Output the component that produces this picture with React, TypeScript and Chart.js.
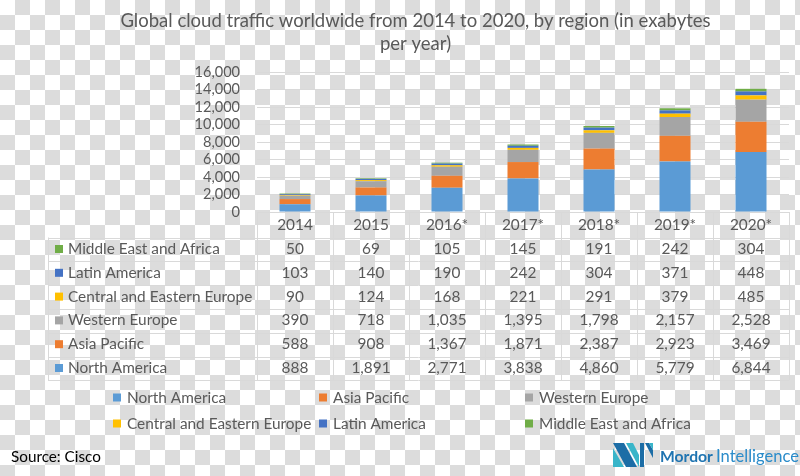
import { useEffect, useRef } from 'react';
import { Chart, registerables } from 'chart.js';
Chart.register(...registerables);

// ---- data ----
const years = ['2014', '2015', '2016*', '2017*', '2018*', '2019*', '2020*'];
const northAmerica = [888, 1891, 2771, 3838, 4860, 5779, 6844];
const asiaPacific = [588, 908, 1367, 1871, 2387, 2923, 3469];
const westernEurope = [390, 718, 1035, 1395, 1798, 2157, 2528];
const centralEasternEurope = [90, 124, 168, 221, 291, 379, 485];
const latinAmerica = [103, 140, 190, 242, 304, 371, 448];
const middleEastAfrica = [50, 69, 105, 145, 191, 242, 304];
const seriesNames = ['North America', 'Asia Pacific', 'Western Europe', 'Central and Eastern Europe', 'Latin America', 'Middle East and Africa'];
const seriesColors = ['#5b9bd5', '#ed7d31', '#a5a5a5', '#ffc000', '#4472c4', '#70ad47'];
const yMin = 0;
const yMax = 16000;
const yStep = 2000;
const titleLines = ['Global cloud traffic worldwide from 2014 to 2020, by region (in exabytes', 'per year)'];
const sourceText = 'Source: Cisco';
const brandBold = 'Mordor';
const brandLight = 'Intelligence';

const FONT = 'Lato';
const TEXT = '#595959';
const LINE = '#d9d9d9';

const mctx = document.createElement('canvas').getContext('2d') as CanvasRenderingContext2D;
function fit(text: string, target: number, weight = 'normal') {
  mctx.font = `${weight} 100px ${FONT}`;
  return (100 * target) / mctx.measureText(text).width;
}
const fmt = (v: number) => v.toLocaleString('en-US');

export default function App() {
  const ref = useRef<HTMLCanvasElement>(null);
  useEffect(() => {
    const canvas = ref.current!;
    const bodySize = fit('Middle East and Africa', 152);
    const tickSize = fit('16,000', 45.5);
    const titleSize = fit(titleLines[0], 591);
    const sourceSize = fit(sourceText, 90);
    const boldSize = fit(brandBold, 53, 'bold');
    const lightSize = fit(brandLight, 83);
    const allSeries = [northAmerica, asiaPacific, westernEurope, centralEasternEurope, latinAmerica, middleEastAfrica];

    const overlay = {
      id: 'overlay',
      afterDraw(chart: any) {
        const ctx = chart.ctx as CanvasRenderingContext2D;
        const area = chart.chartArea;
        const xs = chart.scales.x;
        const colW = (area.right - area.left) / years.length;
        ctx.save();
        // title
        ctx.fillStyle = TEXT;
        ctx.textAlign = 'center';
        ctx.textBaseline = 'alphabetic';
        ctx.font = `normal ${titleSize}px ${FONT}`;
        ctx.fillText(titleLines[0], 415.5, 27);
        ctx.fillText(titleLines[1], 415.5, 50);

        // data table
        const tableTop = 237.5;
        const rowH = 23.8;
        const nRows = allSeries.length;
        const tableBottom = tableTop + nRows * rowH;
        ctx.strokeStyle = LINE;
        ctx.lineWidth = 1;
        ctx.beginPath();
        ctx.moveTo(area.left, Math.round(area.bottom) + 0.5);
        ctx.lineTo(area.right, Math.round(area.bottom) + 0.5);
        for (let k = 0; k <= nRows; k++) {
          const y = Math.round(tableTop + k * rowH) + 0.5;
          ctx.moveTo(48, y);
          ctx.lineTo(area.right, y);
        }
        for (let i = 0; i <= years.length; i++) {
          const x = Math.round(area.left + i * colW) + 0.5;
          ctx.moveTo(x, area.bottom);
          ctx.lineTo(x, tableBottom);
        }
        ctx.moveTo(48.5, tableTop);
        ctx.lineTo(48.5, tableBottom);
        ctx.stroke();

        ctx.font = `normal ${bodySize}px ${FONT}`;
        ctx.fillStyle = TEXT;
        ctx.textAlign = 'center';
        years.forEach((yr, i) => {
          ctx.fillText(yr, xs.getPixelForValue(i), 230);
        });
        for (let r = 0; r < nRows; r++) {
          const si = nRows - 1 - r;
          const base = 254 + r * rowH;
          ctx.fillStyle = seriesColors[si];
          ctx.fillRect(55, base - 9, 8, 8);
          ctx.fillStyle = TEXT;
          ctx.textAlign = 'left';
          ctx.fillText(seriesNames[si], 68, base);
          ctx.textAlign = 'center';
          allSeries[si].forEach((v, i) => {
            ctx.fillText(fmt(v), xs.getPixelForValue(i), base);
          });
        }

        // legend
        const legX = [113, 319, 525];
        const legY = [402.5, 428.5];
        ctx.textAlign = 'left';
        seriesNames.forEach((name, i) => {
          const x = legX[i % 3];
          const y = legY[Math.floor(i / 3)];
          ctx.fillStyle = seriesColors[i];
          ctx.fillRect(x, y - 9, 8, 8);
          ctx.fillStyle = TEXT;
          ctx.fillText(name, x + 14, y);
        });

        // source
        ctx.fillStyle = '#000000';
        ctx.font = `normal ${sourceSize}px ${FONT}`;
        ctx.fillText(sourceText, 11, 461.5);

        // logo icon
        const dark = '#1c6da6';
        const teal = '#39b5c9';
        const poly = (pts: number[][], c: string) => {
          ctx.fillStyle = c;
          ctx.beginPath();
          ctx.moveTo(pts[0][0], pts[0][1]);
          for (let p = 1; p < pts.length; p++) ctx.lineTo(pts[p][0], pts[p][1]);
          ctx.closePath();
          ctx.fill();
        };
        poly([[613, 443], [624, 443], [637, 467], [626, 467]], dark);
        poly([[613, 448], [624, 467], [613, 467]], teal);
        poly([[626, 443], [633, 443], [639, 455], [639, 467]], teal);
        poly([[640, 443], [644, 443], [644, 467], [640, 467]], dark);
        poly([[645, 443], [649, 443], [653, 450], [653, 458]], dark);
        poly([[649, 443], [653, 443], [653, 450]], teal);
        // logo text
        ctx.textBaseline = 'alphabetic';
        ctx.fillStyle = '#1f74b1';
        ctx.font = `bold ${boldSize}px ${FONT}`;
        ctx.fillText(brandBold, 660, 462);
        ctx.fillStyle = '#2b8cca';
        ctx.font = `normal ${lightSize}px ${FONT}`;
        ctx.fillText(brandLight, 716, 462);
        ctx.restore();
      },
    };

    const chart = new Chart(canvas, {
      type: 'bar',
      data: {
        labels: years,
        datasets: seriesNames.map((name, i) => ({
          label: name,
          data: allSeries[i],
          backgroundColor: seriesColors[i],
          borderWidth: 0,
          barPercentage: 0.408,
          categoryPercentage: 1,
        })),
      },
      options: {
        responsive: false,
        animation: false,
        devicePixelRatio: 1,
        layout: { padding: { left: 0, right: 11, top: 72, bottom: 264 } },
        plugins: { legend: { display: false }, tooltip: { enabled: false }, title: { display: false } },
        scales: {
          x: { stacked: true, display: false },
          y: {
            stacked: true,
            min: yMin,
            max: yMax,
            border: { display: false },
            grid: { color: LINE, drawTicks: false },
            afterFit: (s: any) => { s.width = 257; },
            ticks: {
              stepSize: yStep,
              autoSkip: false,
              padding: 17,
              color: TEXT,
              font: { family: FONT, size: tickSize },
              callback: (v: any) => fmt(Number(v)),
            },
          },
        },
      },
      plugins: [overlay],
    });
    return () => chart.destroy();
  }, []);

  return (
    <div
      style={{
        position: 'absolute',
        left: 0,
        top: 0,
        width: 800,
        height: 476,
        backgroundColor: '#ffffff',
        backgroundImage: 'conic-gradient(#dcdcdc 25%, transparent 0 50%, #dcdcdc 0 75%, transparent 0)',
        backgroundSize: '30px 30px',
      }}
    >
      <canvas ref={ref} width={800} height={476} style={{ display: 'block' }} />
    </div>
  );
}
